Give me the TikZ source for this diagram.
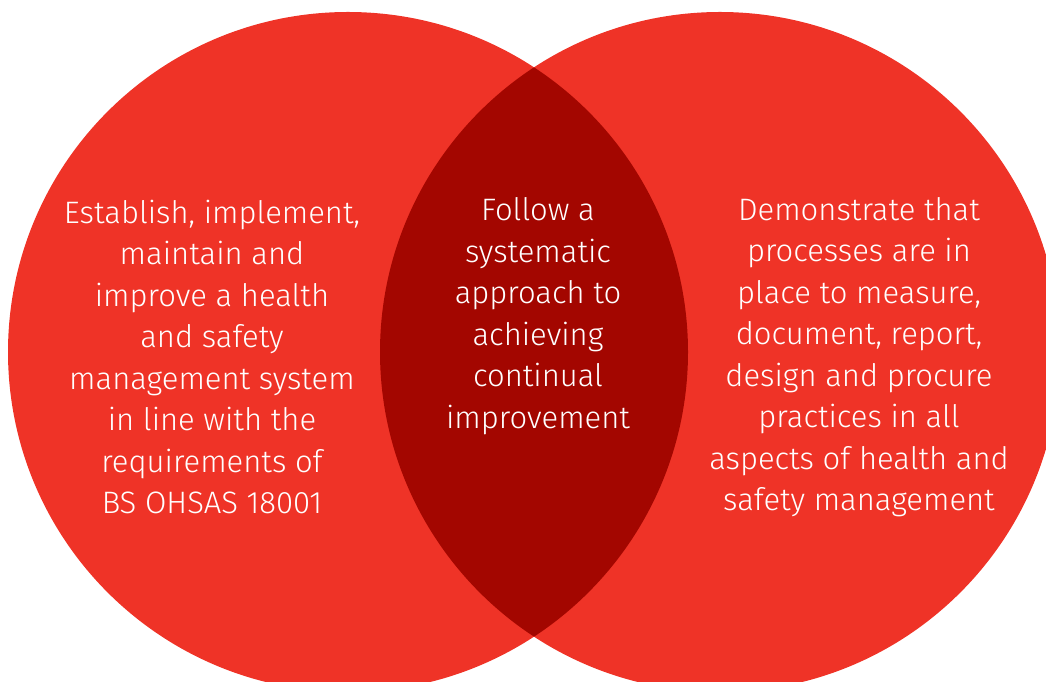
\documentclass[tikz,border=0pt]{standalone}
\usepackage{fontspec}
\setmainfont{Fira Sans}[UprightFont=* Light]
\definecolor{circred}{HTML}{EF3327}
\definecolor{lensred}{HTML}{A30600}
\begin{document}
\begin{tikzpicture}[x=1pt,y=1pt,
  vtext/.style={text=white,align=center,font=\fontsize{31}{41.5}\selectfont,inner sep=0pt}]
\useasboundingbox (0,0) rectangle (1046,682);
\fill[circred] (348,330) circle (340);
\fill[circred] (720,330) circle (340);
\begin{scope}
\clip (348,330) circle (340);
\fill[lensred] (720,330) circle (340);
\end{scope}
\node[vtext] (left) at (212,325) {Establish, implement,\\maintain and\\improve a health\\and safety\\management system\\in line with the\\requirements of\\BS OHSAS 18001};
\node[vtext] (mid) at (538,366) {Follow a\\systematic\\approach to\\achieving\\continual\\improvement};
\node[vtext] (right) at (859,325) {Demonstrate that\\processes are in\\place to measure,\\document, report,\\design and procure\\practices in all\\aspects of health and\\safety management};
\end{tikzpicture}
\end{document}
